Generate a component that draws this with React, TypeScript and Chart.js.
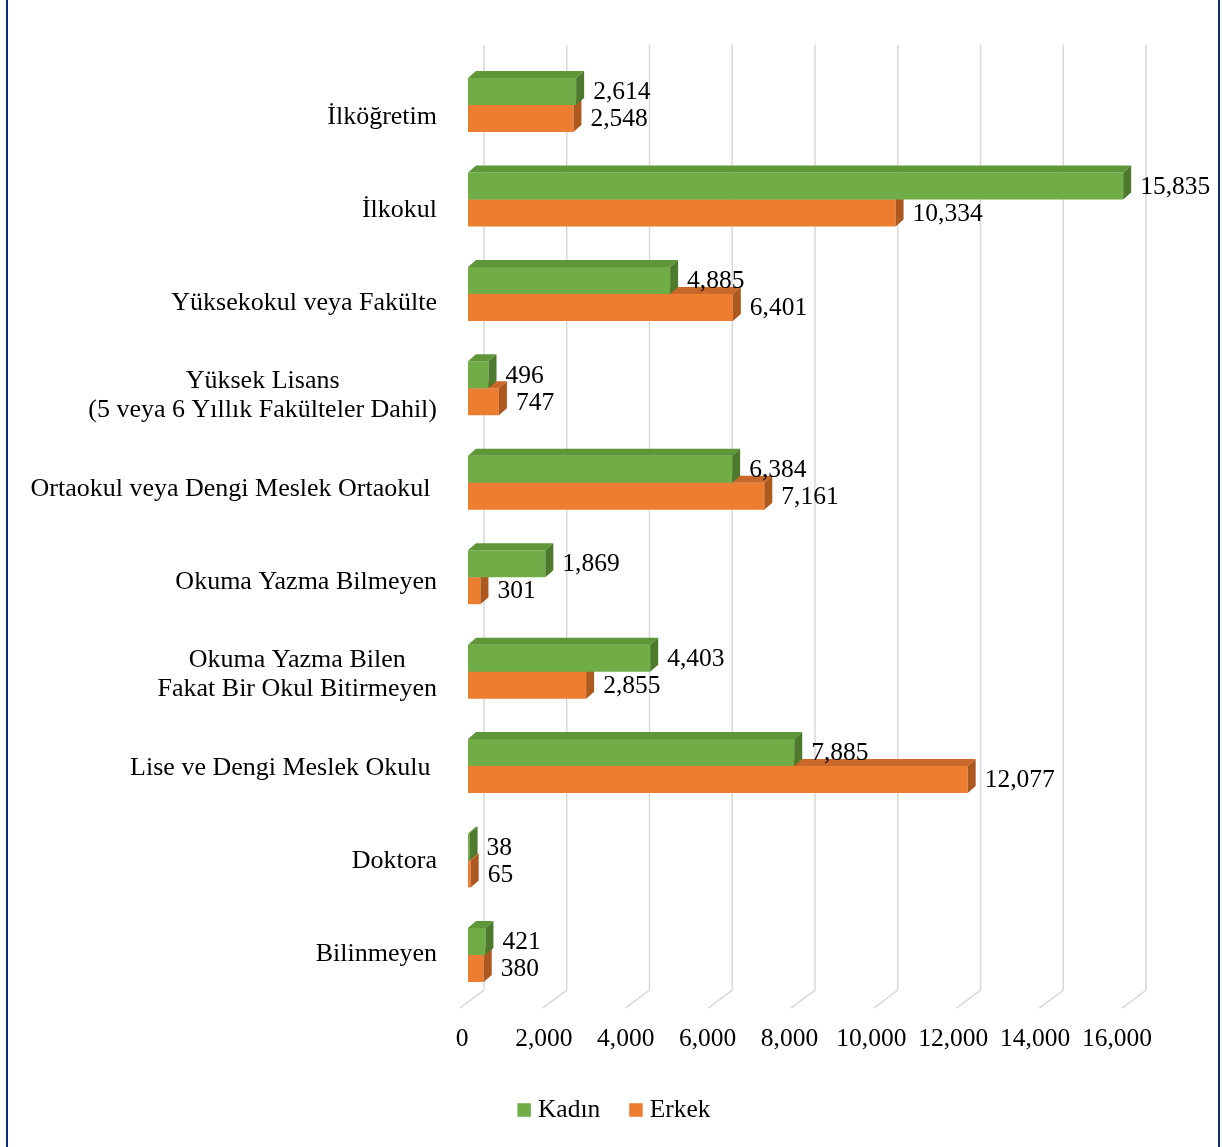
import React, { useEffect, useRef } from "react";
import { Chart, registerables } from "chart.js";

Chart.register(...registerables);

const categories: (string | string[])[] = [
  "İlköğretim",
  "İlkokul",
  "Yüksekokul veya Fakülte",
  ["Yüksek Lisans", "(5 veya 6 Yıllık Fakülteler Dahil)"],
  "Ortaokul veya Dengi Meslek Ortaokul ",
  "Okuma Yazma Bilmeyen",
  ["Okuma Yazma Bilen", "Fakat Bir Okul Bitirmeyen"],
  "Lise ve Dengi Meslek Okulu ",
  "Doktora",
  "Bilinmeyen",
];
const kadin = [2614, 15835, 4885, 496, 6384, 1869, 4403, 7885, 38, 421];
const erkek = [2548, 10334, 6401, 747, 7161, 301, 2855, 12077, 65, 380];
const xTicks = [0, 2000, 4000, 6000, 8000, 10000, 12000, 14000, 16000];
const seriesNames = ["Kadın", "Erkek"];

const FRONT = ["#70AD47", "#ED7D31"];
const TOP = ["#5E9638", "#C9682A"];
const SIDE = ["#4D7A2D", "#AD581E"];

const FONT = '"Liberation Serif", "Times New Roman", serif';
const DX = 8;
const DY = 7;

const fmt = (v: number) => v.toLocaleString("en-US");

const threeD = {
  id: "threeD",
  beforeDatasetsDraw(chart: any) {
    const ctx = chart.ctx;
    const xs = chart.scales.x;
    const ys = chart.scales.y;
    const area = chart.chartArea;
    ctx.save();
    // 3D back-wall gridlines with floor
    ctx.strokeStyle = "#D9D9D9";
    ctx.lineWidth = 1.5;
    for (const v of xTicks) {
      const px = xs.getPixelForValue(v) + 16;
      ctx.beginPath();
      ctx.moveTo(px, area.top - 13);
      ctx.lineTo(px, area.bottom - 12);
      ctx.lineTo(px - 24, area.bottom + 6);
      ctx.stroke();
    }
    // x tick labels on front floor edge
    ctx.fillStyle = "#000";
    ctx.font = `25.5px ${FONT}`;
    ctx.textAlign = "center";
    ctx.textBaseline = "middle";
    for (const v of xTicks) {
      const px = xs.getPixelForValue(v) - 6 - (7 * v) / 16000;
      ctx.fillText(fmt(v), px, area.bottom + 37);
    }
    // category labels (multi-line centered, block right-aligned)
    ctx.font = `26px ${FONT}`;
    const y0 = ys.getPixelForValue(0);
    categories.forEach((lab, i) => {
      const lines = Array.isArray(lab) ? lab : [lab];
      const yb = ys.getPixelForValue(i);
      const yl = y0 + 12 + (yb - y0) * 0.985;
      const maxW = Math.max(...lines.map((l) => ctx.measureText(l).width));
      const cx = area.left - 31 - maxW / 2;
      const lh = 29;
      lines.forEach((l, j) => {
        ctx.fillText(l, cx, yl + (j - (lines.length - 1) / 2) * lh);
      });
    });
    ctx.restore();
  },
  afterDatasetDraw(chart: any, args: any) {
    const ctx = chart.ctx;
    const di = args.index;
    const meta = args.meta;
    ctx.save();
    meta.data.forEach((bar: any) => {
      const p = bar.getProps(["x", "y", "base", "height"], true);
      const top = p.y - p.height / 2;
      const bot = p.y + p.height / 2;
      ctx.fillStyle = TOP[di];
      ctx.beginPath();
      ctx.moveTo(p.base, top);
      ctx.lineTo(p.x, top);
      ctx.lineTo(p.x + DX, top - DY);
      ctx.lineTo(p.base + DX, top - DY);
      ctx.closePath();
      ctx.fill();
      ctx.fillStyle = SIDE[di];
      ctx.beginPath();
      ctx.moveTo(p.x, top);
      ctx.lineTo(p.x + DX, top - DY);
      ctx.lineTo(p.x + DX, bot - DY);
      ctx.lineTo(p.x, bot);
      ctx.closePath();
      ctx.fill();
    });
    ctx.restore();
  },
  afterDatasetsDraw(chart: any) {
    const ctx = chart.ctx;
    ctx.save();
    ctx.fillStyle = "#000";
    ctx.font = `25.5px ${FONT}`;
    ctx.textAlign = "left";
    ctx.textBaseline = "middle";
    chart.data.datasets.forEach((ds: any, di: number) => {
      const meta = chart.getDatasetMeta(di);
      meta.data.forEach((bar: any, i: number) => {
        const p = bar.getProps(["x", "y"], true);
        ctx.fillText(fmt(ds.data[i]), p.x + 17, p.y + 1);
      });
    });
    // legend
    const box = 13.5;
    const gapBoxText = 7;
    const gapItems = 29;
    const widths = seriesNames.map((n) => ctx.measureText(n).width);
    const total =
      widths.reduce((a, w) => a + box + gapBoxText + w, 0) + gapItems * (seriesNames.length - 1);
    let lx = chart.width / 2 + 3 - total / 2;
    const ly = 1110;
    seriesNames.forEach((n, i) => {
      ctx.fillStyle = FRONT[i];
      ctx.fillRect(lx, ly - box / 2, box, box);
      ctx.fillStyle = "#000";
      ctx.fillText(n, lx + box + gapBoxText, ly);
      lx += box + gapBoxText + widths[i] + gapItems;
    });
    ctx.restore();
  },
};

export default function App() {
  const ref = useRef<HTMLCanvasElement | null>(null);
  useEffect(() => {
    if (!ref.current) return;
    const chart = new Chart(ref.current, {
      type: "bar",
      data: {
        labels: categories as any,
        datasets: [
          { label: seriesNames[0], data: kadin, backgroundColor: FRONT[0], borderWidth: 0 },
          { label: seriesNames[1], data: erkek, backgroundColor: FRONT[1], borderWidth: 0 },
        ],
      },
      options: {
        indexAxis: "y",
        responsive: false,
        animation: false,
        layout: { padding: { left: 468, right: 92, top: 57.8, bottom: 144.8 } },
        datasets: { bar: { categoryPercentage: 0.572, barPercentage: 1 } } as any,
        scales: {
          x: { display: false, min: 0, max: 16000 },
          y: { display: false },
        },
        plugins: { legend: { display: false }, tooltip: { enabled: false } },
      },
      plugins: [threeD],
    });
    return () => chart.destroy();
  }, []);
  return (
    <div style={{ position: "fixed", left: 0, top: 0, width: 1222, height: 1147, background: "#fff" }}>
      <canvas ref={ref} width={1222} height={1147} style={{ display: "block" }} />
      <div
        style={{
          position: "absolute",
          left: 6,
          top: 0,
          width: 1214,
          height: 1147,
          boxSizing: "border-box",
          borderLeft: "2px solid #0E2A6E",
          borderRight: "2px solid #0E2A6E",
          pointerEvents: "none",
        }}
      />
    </div>
  );
}
